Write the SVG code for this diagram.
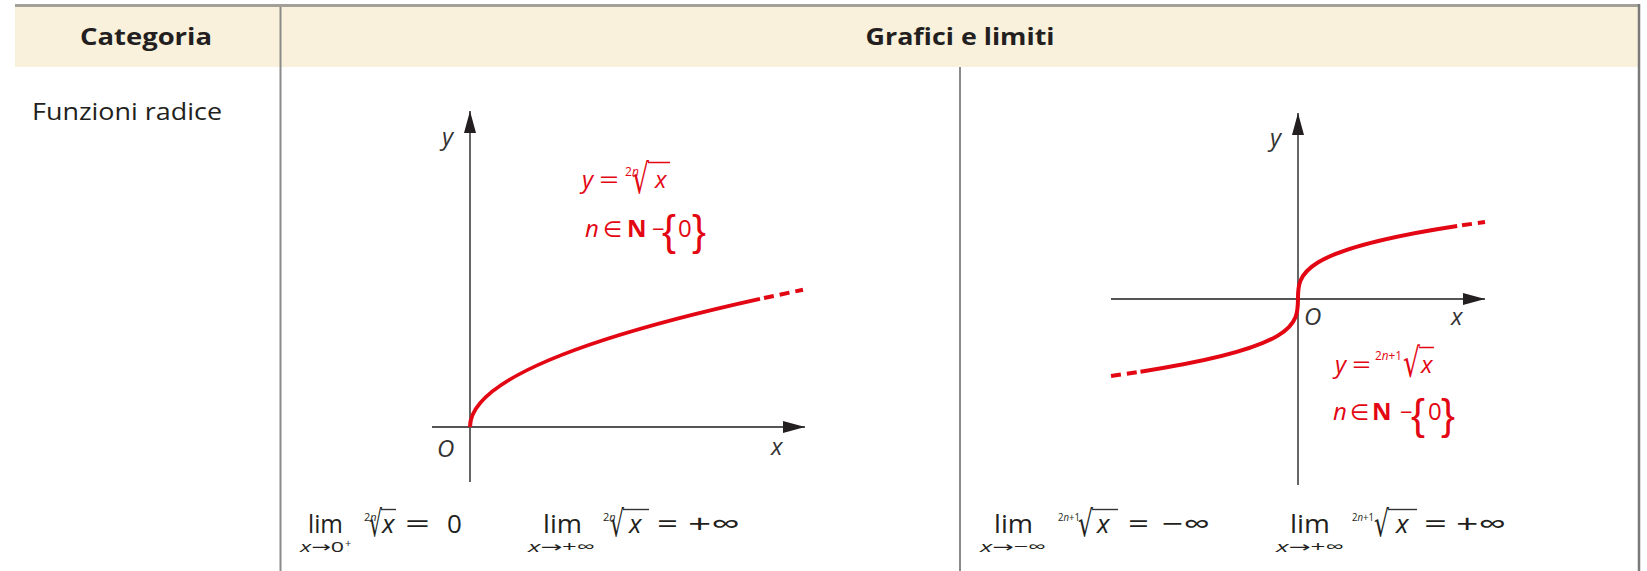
<svg xmlns="http://www.w3.org/2000/svg" width="1647" height="571" viewBox="0 0 1647 571">
<style>
text{font-family:"Open Sans","Noto Sans","DejaVu Sans",sans-serif;fill:#231f20}
.hdr{font-weight:bold;font-size:24px}
.lbl{font-size:23px}
.ax{font-size:24px;font-style:italic;fill:#333}
.it{font-style:italic}
.red{fill:#e30613}
.b{font-weight:bold}
.rad{font-family:"DejaVu Sans",sans-serif}
.br{font-family:"Liberation Sans",sans-serif}
.axis{stroke:#555;stroke-width:1.8;fill:none}
.grid{stroke:#8a8a8a;stroke-width:2;fill:none}
.crv{stroke:#e30613;stroke-width:4;fill:none}
.ovr{stroke:#e30613;stroke-width:1.5}
.ovk{stroke:#333;stroke-width:1.4}
.f{font-size:26px}
.sub{font-size:15px}
.idx{font-size:11px}
</style>
<defs>
<marker id="ah" markerUnits="userSpaceOnUse" markerWidth="22" markerHeight="12" refX="22" refY="6" orient="auto">
<path d="M0,0 L22,6 L0,12 z" fill="#231f20"/>
</marker>
</defs>

<g id="table">
<rect x="15" y="7" width="1623" height="60" fill="#f9f1dc"/>
<rect x="15" y="4" width="1625" height="3" fill="#a3a09a"/>
<line class="grid" x1="280.5" y1="7" x2="280.5" y2="571"/>
<line class="grid" x1="960" y1="67" x2="960" y2="571"/>
<line x1="1639" y1="4" x2="1639" y2="571" stroke="#7a7a7a" stroke-width="2.5"/>
</g>

<g id="header">
<text class="hdr" x="146" y="45" text-anchor="middle" textLength="132" lengthAdjust="spacingAndGlyphs">Categoria</text>
<text class="hdr" x="960" y="45" text-anchor="middle" textLength="189" lengthAdjust="spacingAndGlyphs">Grafici e limiti</text>
</g>

<g id="category">
<text class="lbl" x="32" y="120" textLength="190" lengthAdjust="spacingAndGlyphs">Funzioni radice</text>
</g>

<g id="connectors">
<line class="axis" x1="470" y1="482" x2="470" y2="111" marker-end="url(#ah)"/>
<line class="axis" x1="432" y1="427" x2="805" y2="427" marker-end="url(#ah)"/>
<line class="axis" x1="1298" y1="485" x2="1298" y2="113" marker-end="url(#ah)"/>
<line class="axis" x1="1111" y1="299" x2="1485" y2="299" marker-end="url(#ah)"/>
</g>

<g id="graph-even">
<path class="crv" d="M470,427 Q470,362.96 760,298.9"/>
<path class="crv" d="M764,298 L803,289.8" stroke-dasharray="10,6"/>
<text class="ax" x="442" y="145">y</text>
<text class="ax" x="437" y="457">O</text>
<text class="ax" x="771" y="455">x</text>
<text class="red it" x="582" y="188" font-size="24">y</text>
<text class="red" x="599" y="188" font-size="24" textLength="20" lengthAdjust="spacingAndGlyphs">=</text>
<text class="red" x="625" y="176" font-size="12">2<tspan class="it">n</tspan></text>
<text class="red rad" x="632" y="193" font-size="41" textLength="17" lengthAdjust="spacingAndGlyphs">√</text>
<line class="ovr" x1="648" y1="162.5" x2="670" y2="162.5"/>
<text class="red it" x="655" y="188" font-size="24">x</text>
<text class="red it" x="585" y="237" font-size="24">n</text>
<text class="red" x="603" y="237" font-size="22">∈</text>
<text class="red b" x="627" y="237" font-size="24">N</text>
<text class="red" x="652" y="237" font-size="22">−</text>
<text class="red br" x="662" y="245" font-size="42" textLength="14" lengthAdjust="spacingAndGlyphs">{</text>
<text class="red" x="678" y="237" font-size="24">0</text>
<text class="red br" x="692" y="245" font-size="42" textLength="14" lengthAdjust="spacingAndGlyphs">}</text>
</g>

<g id="graph-odd">
<path class="crv" d="M1140.5,371.7 C1456,323.2 1139.3,274.6 1457.2,226"/>
<path class="crv" d="M1111,376 L1140.5,371.7" stroke-dasharray="10,6"/>
<path class="crv" d="M1462,225.3 L1485,222" stroke-dasharray="10,6"/>
<text class="ax" x="1270" y="146">y</text>
<text class="ax" x="1304" y="325">O</text>
<text class="ax" x="1451" y="325">x</text>
<text class="red it" x="1335" y="373" font-size="24">y</text>
<text class="red" x="1352" y="373" font-size="24" textLength="19" lengthAdjust="spacingAndGlyphs">=</text>
<text class="red" x="1375" y="360" font-size="12" textLength="27" lengthAdjust="spacingAndGlyphs">2<tspan class="it">n</tspan>+1</text>
<text class="red rad" x="1403" y="377" font-size="40" textLength="17" lengthAdjust="spacingAndGlyphs">√</text>
<line class="ovr" x1="1419" y1="347.5" x2="1434" y2="347.5"/>
<text class="red it" x="1421" y="373" font-size="24">x</text>
<text class="red it" x="1333" y="420" font-size="24">n</text>
<text class="red" x="1350" y="420" font-size="22">∈</text>
<text class="red b" x="1372" y="420" font-size="24">N</text>
<text class="red" x="1400" y="420" font-size="22">−</text>
<text class="red br" x="1411" y="429" font-size="42" textLength="14" lengthAdjust="spacingAndGlyphs">{</text>
<text class="red" x="1428" y="420" font-size="24">0</text>
<text class="red br" x="1441" y="429" font-size="42" textLength="14" lengthAdjust="spacingAndGlyphs">}</text>
</g>

<g id="limits-even">
<text class="f" x="308" y="533" textLength="35" lengthAdjust="spacingAndGlyphs">lim</text>
<text class="sub" x="300" y="552" textLength="44" lengthAdjust="spacingAndGlyphs"><tspan class="it">x</tspan>→0</text>
<text class="idx" x="345" y="547">+</text>
<text class="idx" x="364" y="521">2<tspan class="it">n</tspan></text>
<text class="rad" x="369" y="536" font-size="36" textLength="13" lengthAdjust="spacingAndGlyphs">√</text>
<line class="ovk" x1="381" y1="509.5" x2="396" y2="509.5"/>
<text class="f it" x="382" y="533">x</text>
<text class="f" x="405" y="533" textLength="25" lengthAdjust="spacingAndGlyphs">=</text>
<text class="f" x="447" y="533" font-size="27">0</text>

<text class="f" x="543" y="533" textLength="39" lengthAdjust="spacingAndGlyphs">lim</text>
<text class="sub" x="528" y="552" textLength="67" lengthAdjust="spacingAndGlyphs"><tspan class="it">x</tspan>→+∞</text>
<text class="idx" x="603" y="521">2<tspan class="it">n</tspan></text>
<text class="rad" x="610" y="536" font-size="36" textLength="14" lengthAdjust="spacingAndGlyphs">√</text>
<line class="ovk" x1="623" y1="509.5" x2="649" y2="509.5"/>
<text class="f it" x="629" y="533">x</text>
<text class="f" x="657" y="533" textLength="21" lengthAdjust="spacingAndGlyphs">=</text>
<text class="f" x="688" y="533" textLength="52" lengthAdjust="spacingAndGlyphs">+∞</text>
</g>

<g id="limits-odd">
<text class="f" x="994" y="533" textLength="39" lengthAdjust="spacingAndGlyphs">lim</text>
<text class="sub" x="980" y="552" textLength="66" lengthAdjust="spacingAndGlyphs"><tspan class="it">x</tspan>→−∞</text>
<text class="idx" x="1058" y="521" textLength="22" lengthAdjust="spacingAndGlyphs">2<tspan class="it">n</tspan>+1</text>
<text class="rad" x="1078" y="536" font-size="36" textLength="15" lengthAdjust="spacingAndGlyphs">√</text>
<line class="ovk" x1="1092" y1="509.5" x2="1118" y2="509.5"/>
<text class="f it" x="1097" y="533">x</text>
<text class="f" x="1128" y="533" textLength="21" lengthAdjust="spacingAndGlyphs">=</text>
<text class="f" x="1162" y="533" textLength="48" lengthAdjust="spacingAndGlyphs">−∞</text>

<text class="f" x="1290" y="533" textLength="40" lengthAdjust="spacingAndGlyphs">lim</text>
<text class="sub" x="1276" y="552" textLength="68" lengthAdjust="spacingAndGlyphs"><tspan class="it">x</tspan>→+∞</text>
<text class="idx" x="1352" y="521" textLength="22" lengthAdjust="spacingAndGlyphs">2<tspan class="it">n</tspan>+1</text>
<text class="rad" x="1374" y="536" font-size="36" textLength="15" lengthAdjust="spacingAndGlyphs">√</text>
<line class="ovk" x1="1388" y1="509.5" x2="1417" y2="509.5"/>
<text class="f it" x="1396" y="533">x</text>
<text class="f" x="1424" y="533" textLength="23" lengthAdjust="spacingAndGlyphs">=</text>
<text class="f" x="1456" y="533" textLength="50" lengthAdjust="spacingAndGlyphs">+∞</text>
</g>
</svg>
